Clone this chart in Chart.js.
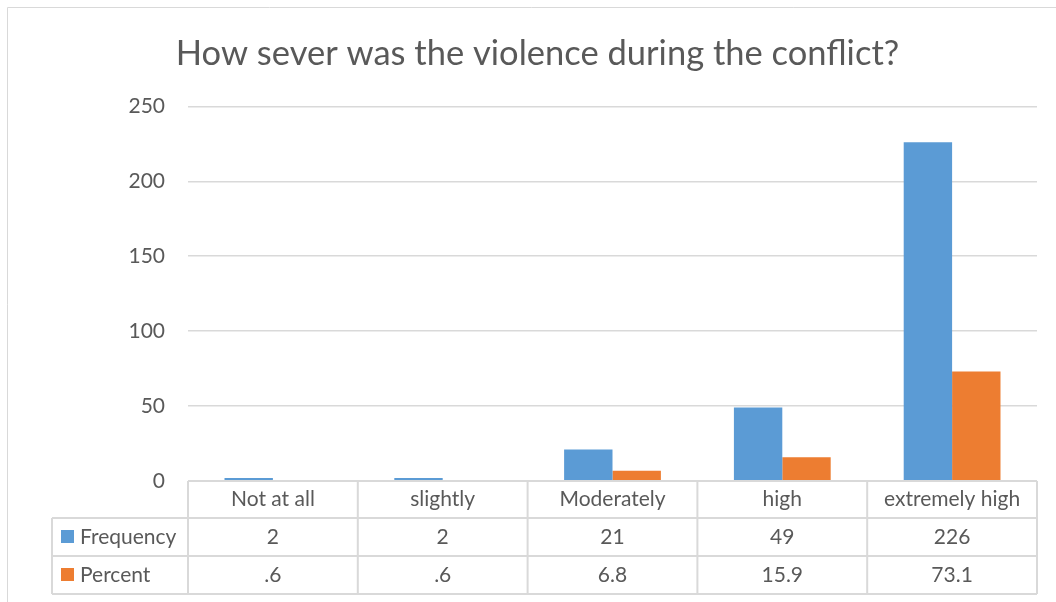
<!DOCTYPE html>
<html>
<head>
<meta charset="utf-8">
<script src="https://cdn.jsdelivr.net/npm/chart.js@4.4.1/dist/chart.umd.min.js"></script>
<style>
    html, body { margin: 0; padding: 0; background: #fff; }
    #wrap { width: 1056px; height: 602px; position: relative; }
</style>
</head>
<body>
<div id="wrap"><canvas id="chart"></canvas></div>
<script>
var chartTitle = 'How sever was the violence during the conflict?';
var categories = ['Not at all', 'slightly', 'Moderately', 'high', 'extremely high'];
var frequency = [2, 2, 21, 49, 226];
var percent = [0.6, 0.6, 6.8, 15.9, 73.1];
var seriesNames = ['Frequency', 'Percent'];
var seriesColors = ['#5b9bd5', '#ed7d31'];

var textColor = '#595959';
var lineColor = '#d9d9d9';
var fontFamily = 'Lato, "Open Sans", sans-serif';

// Excel writes .6 instead of 0.6 in the data table
function fmt(v) {
    return String(v).replace(/^0\./, '.');
}

// outer chart border (top/left visible in the crop)
var chartBorder = {
    id: 'chartBorder',
    beforeDraw: function (chart) {
        var c = chart.ctx;
        c.save();
        c.strokeStyle = lineColor;
        c.lineWidth = 1;
        c.beginPath();
        c.moveTo(7.5, chart.height);
        c.lineTo(7.5, 7.5);
        c.lineTo(chart.width, 7.5);
        c.stroke();
        c.restore();
    }
};

// data table under the plot, columns follow the x scale
var dataTable = {
    id: 'dataTable',
    afterDraw: function (chart) {
        var c = chart.ctx;
        var x = chart.scales.x;
        var top = chart.chartArea.bottom;
        var colW = x.width / categories.length;
        var left = x.left, right = x.right;
        var keyLeft = 52;
        var y1 = top + 37, y2 = y1 + 38, y3 = y2 + 38;

        c.save();
        c.strokeStyle = lineColor;
        c.lineWidth = 2;
        c.beginPath();
        // horizontal lines
        c.moveTo(left, top); c.lineTo(right, top);
        c.moveTo(keyLeft, y1); c.lineTo(right, y1);
        c.moveTo(keyLeft, y2); c.lineTo(right, y2);
        c.moveTo(keyLeft, y3); c.lineTo(right, y3);
        // vertical lines
        c.moveTo(keyLeft, y1); c.lineTo(keyLeft, y3);
        for (var i = 0; i <= categories.length; i++) {
            var vx = left + i * colW;
            c.moveTo(vx, top); c.lineTo(vx, y3);
        }
        c.stroke();

        c.fillStyle = textColor;
        c.font = '21px ' + fontFamily;
        c.textAlign = 'center';
        c.textBaseline = 'middle';
        var rows = [frequency, percent];
        categories.forEach(function (cat, i) {
            var cx = x.getPixelForValue(i);
            c.fillText(cat, cx, (top + y1) / 2);
            c.fillText(fmt(rows[0][i]), cx, (y1 + y2) / 2);
            c.fillText(fmt(rows[1][i]), cx, (y2 + y3) / 2);
        });

        // legend keys
        var rowMid = [(y1 + y2) / 2, (y2 + y3) / 2];
        c.textAlign = 'left';
        seriesNames.forEach(function (name, k) {
            c.fillStyle = seriesColors[k];
            c.fillRect(61, rowMid[k] - 7, 13, 13);
            c.fillStyle = textColor;
            c.fillText(name, 80, rowMid[k]);
        });
        c.restore();
    }
};

var ctx = document.getElementById('chart').getContext('2d');
new Chart(ctx, {
    type: 'bar',
    data: {
        labels: categories,
        datasets: [{
            label: seriesNames[0],
            data: frequency,
            backgroundColor: seriesColors[0]
        }, {
            label: seriesNames[1],
            data: percent,
            backgroundColor: seriesColors[1]
        }]
    },
    options: {
        responsive: true,
        maintainAspectRatio: false,
        animation: false,
        datasets: {
            bar: { categoryPercentage: 0.57, barPercentage: 1 }
        },
        layout: {
            padding: { left: 38, right: 19, top: 0, bottom: 121 }
        },
        plugins: {
            legend: { display: false },
            tooltip: { enabled: false },
            title: {
                display: true,
                text: chartTitle,
                color: textColor,
                font: { family: fontFamily, size: 34.5, weight: 'normal' },
                padding: { top: 33, bottom: 32 }
            }
        },
        scales: {
            x: { display: false },
            y: {
                min: 0,
                max: 250,
                afterFit: function (scale) { scale.width = 150; },
                ticks: {
                    stepSize: 50,
                    padding: 23,
                    color: textColor,
                    font: { family: fontFamily, size: 21 }
                },
                grid: { color: lineColor, lineWidth: 1.5, drawTicks: false },
                border: { display: false }
            }
        }
    },
    plugins: [chartBorder, dataTable]
});
</script>
</body>
</html>
